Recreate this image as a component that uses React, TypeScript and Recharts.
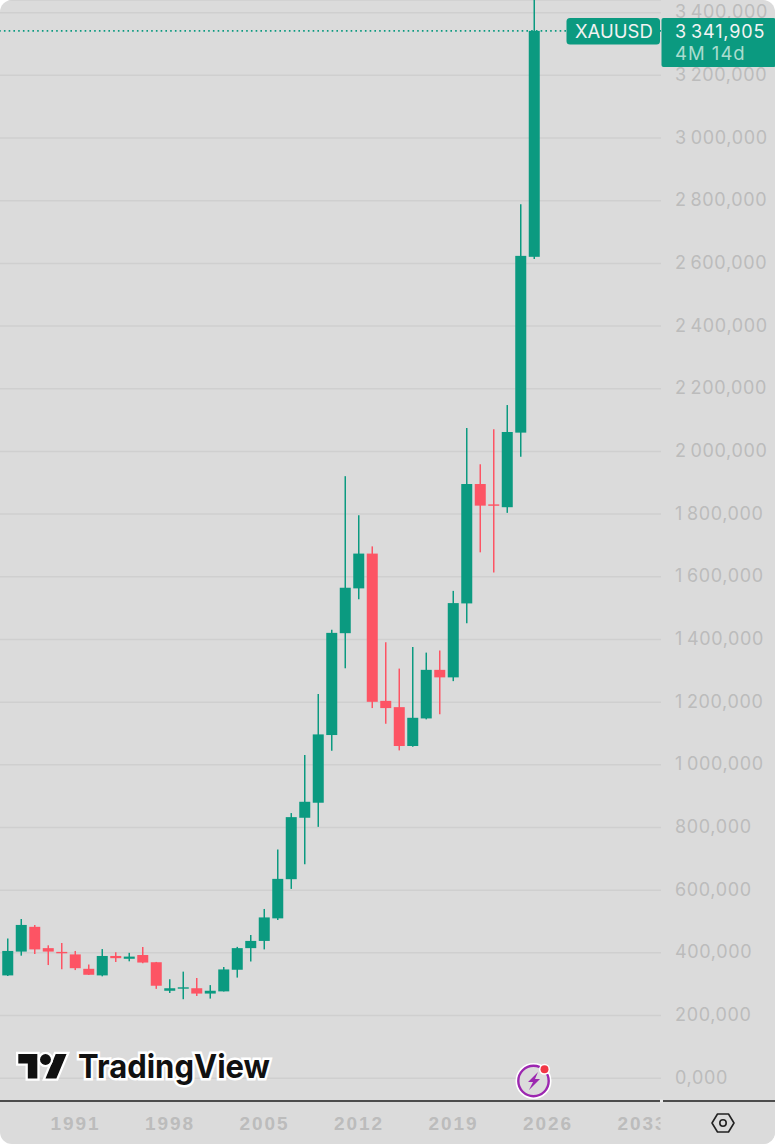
import React from "react";
import { ComposedChart, Bar, XAxis, YAxis, CartesianGrid, ReferenceLine } from "recharts";

const years = [1986,1987,1988,1989,1990,1991,1992,1993,1994,1995,1996,1997,1998,1999,2000,2001,2002,2003,2004,2005,2006,2007,2008,2009,2010,2011,2012,2013,2014,2015,2016,2017,2018,2019,2020,2021,2022,2023,2024,2025];
const opens = [328,404,483,415,403,395,349,328,390,381,393,370,279,286,287,270,277,346,415,438,510,635,831,879,1095,1420,1563,1674,1204,1184,1060,1148,1303,1279,1515,1896,1831,1822,2060,2621];
const highs = [446,508,489,424,431,406,363,412,402,400,419,371,316,340,320,297,355,419,457,540,730,846,1031,1226,1431,1921,1796,1697,1391,1307,1376,1358,1365,1555,2075,1959,2071,2148,2789,3500];
const lows = [326,391,396,361,348,345,329,325,371,373,367,285,272,252,262,254,277,321,372,411,505,604,683,802,1045,1308,1528,1181,1131,1046,1058,1145,1161,1267,1452,1678,1614,1804,1983,2614];
const closes = [406,489,411,404,399,351,330,390,383,388,369,295,287,290,270,279,347,415,438,513,636,833,882,1097,1421,1565,1674,1201,1181,1060,1150,1303,1279,1516,1896,1827,1828,2062,2624,3341.905];

const yTicks = [0,200,400,600,800,1000,1200,1400,1600,1800,2000,2200,2400,2600,2800,3000,3200,3400];
const xTicks = [1991,1998,2005,2012,2019,2026,2033];
const lastPrice = 3341.905;
const symbol = "XAUUSD";
const priceLabel = "3\u2009341,905";
const countdownLabel = "4M 14d";
const brand = "TradingView";

const data = years.map((year, i) => ({
  year, open: opens[i], high: highs[i], low: lows[i], close: closes[i], range: [lows[i], highs[i]],
}));

const GREEN = "#0b9a80";
const RED = "#fd5464";
const BG = "#dbdbdb";
const LABEL = "#bcbcbc";

const fmtPrice = (v: number) => {
  const s = v.toFixed(3).replace(".", ",");
  return v >= 1000 ? s.slice(0, -7) + "\u2009" + s.slice(-7) : s;
};

const Candle = (props: any) => {
  const { x, y, width, height, payload } = props;
  if (height == null || !payload) return null;
  const perUnit = height / (payload.high - payload.low);
  const top = y + (payload.high - Math.max(payload.open, payload.close)) * perUnit;
  const bodyH = Math.abs(payload.open - payload.close) * perUnit;
  const color = payload.close >= payload.open ? GREEN : RED;
  const cx = x + width / 2;
  return (
    <g>
      <line x1={cx} x2={cx} y1={y} y2={y + height} stroke={color} strokeWidth={1.5} />
      <rect x={x} y={top} width={width} height={Math.max(bodyH, 1.4)} fill={color} />
    </g>
  );
};

export default function App() {
  return (
    <div style={{ position: "absolute", left: 0, top: 0, width: 775, height: 1144, background: BG, borderRadius: 12, overflow: "hidden" }}>
      <ComposedChart width={775} height={1146} data={data} margin={{ top: 0, right: 0, bottom: 0, left: 0 }}>
        <CartesianGrid horizontal vertical={false} stroke="#cfcfcf" strokeWidth={1.5} />
        <XAxis
          dataKey="year"
          type="number"
          domain={[1985.407, 2034.37]}
          allowDataOverflow
          ticks={xTicks}
          height={45}
          interval={0}
          axisLine={{ stroke: "#4c4c4c", strokeWidth: 2 }}
          tickLine={false}
          tickSize={0}
          tickMargin={16}
          tick={{ fill: LABEL, fontFamily: "Liberation Sans", fontWeight: 700, fontSize: 19, letterSpacing: 1.9 }}
          tickFormatter={(v: number) => String(v)}
        />
        <YAxis
          orientation="right"
          type="number"
          width={114}
          domain={[-72.8, 3440.5]}
          allowDataOverflow
          ticks={yTicks}
          interval={0}
          axisLine={false}
          tickLine={false}
          tickSize={0}
          tickMargin={14}
          tick={{ fill: LABEL, fontFamily: "Inter", fontSize: 18, letterSpacing: 0.65, textAnchor: "start", dy: -0.8 }}
          tickFormatter={fmtPrice}
        />
        <ReferenceLine y={lastPrice} stroke={GREEN} strokeWidth={1.6} strokeDasharray="1.6 3.15" />
        <Bar dataKey="range" barSize={11} shape={Candle} isAnimationActive={false} />
      </ComposedChart>

      <svg width={775} height={1146} style={{ position: "absolute", left: 0, top: 0, pointerEvents: "none" }}>
        {/* right side axis corner */}
        <rect x={660.5} y={1102} width={115} height={44} fill={BG} />
        <rect x={660} y={1099.5} width={3} height={3} fill="#e8e8e8" />
        <line x1={663} x2={775} y1={1101} y2={1101} stroke="#4c4c4c" strokeWidth={2} />
        <g transform="translate(723,1123)" fill="none" stroke="#222" strokeWidth={1.6} strokeLinejoin="round">
          <path d="M-11 0 L-5.5 -9 L5.5 -9 L11 0 L5.5 9 L-5.5 9 Z" />
          <circle r={3.2} />
        </g>

        {/* last price labels */}
        <rect x={566.5} y={18} width={93.5} height={26.5} rx={3.5} fill={GREEN} />
        <text x={575} y={38} fontFamily="Inter" fontSize={18.5} fill="#f2f2f2">{symbol}</text>
        <rect x={661.5} y={18} width={114} height={49} rx={2} fill={GREEN} />
        <text x={675} y={37.5} fontFamily="Inter" fontSize={18} letterSpacing={0.85} fill="#f4f4f4">{priceLabel}</text>
        <text x={675} y={60} fontFamily="Inter" fontSize={18.5} letterSpacing={1} fill="#a9dccf">{countdownLabel}</text>

        {/* logo */}
        <g transform="translate(18.3,1048.6) scale(1.36)" fill="#111" stroke="#fff" strokeWidth={3.4} style={{ paintOrder: "stroke" }}>
          <path d="M14 22H7V11H0V4h14v18zM28 22h-8l7.5-18h8L28 22z" />
          <circle cx={20} cy={8} r={4} />
        </g>
        <text x={78} y={1078.3} fontFamily="Inter" fontWeight={700} fontSize={33} textLength={192} lengthAdjust="spacingAndGlyphs" fill="#111" stroke="#fff" strokeWidth={5} style={{ paintOrder: "stroke" }}>{brand}</text>

        {/* bolt badge */}
        <circle cx={533.5} cy={1081} r={18} fill="#fff" />
        <circle cx={533.5} cy={1081} r={15.2} fill={BG} stroke="#9c27b0" strokeWidth={2.4} />
        <path d="M538 1072 L528 1082 L533 1082 L529 1090 L540 1079 L535 1079 Z" fill="#9c27b0" />
        <circle cx={544.5} cy={1069.3} r={5.5} fill="#fff" />
        <circle cx={544.5} cy={1069.3} r={4} fill="#f23645" />
      </svg>
    </div>
  );
}
